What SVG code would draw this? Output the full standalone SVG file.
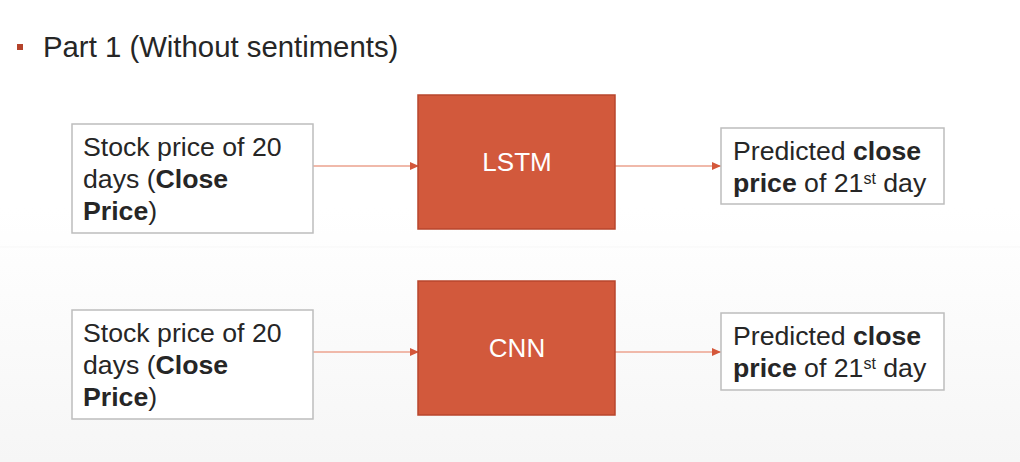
<svg xmlns="http://www.w3.org/2000/svg" width="1020" height="462" viewBox="0 0 1020 462">
<defs>
<linearGradient id="bg" x1="0" y1="0" x2="0" y2="1">
<stop offset="0" stop-color="#ffffff"/>
<stop offset="0.45" stop-color="#ffffff"/>
<stop offset="1" stop-color="#f6f6f6"/>
</linearGradient>
<marker id="arr" viewBox="0 0 10 10" refX="10" refY="5" markerWidth="9" markerHeight="8" markerUnits="userSpaceOnUse" orient="auto" preserveAspectRatio="none">
<path d="M0,0 L10,5 L0,10 Z" fill="#d4573a"/>
</marker>
<style>
text{font-family:"Liberation Sans",Arial,sans-serif;fill:#262626;}
.box{fill:#ffffff;stroke:#bdbdbd;stroke-width:1.5;}
.model{fill:#d2593c;stroke:#b8462c;stroke-width:1.5;}
.t{font-size:26.67px;}
.b{font-weight:bold;}
.sup{font-size:16px;}
.mt{font-size:26px;fill:#ffffff;text-anchor:middle;}
.conn{stroke:#f0b9aa;stroke-width:2;fill:none;}
</style>
</defs>
<rect x="0" y="0" width="1020" height="462" fill="url(#bg)"/>
<line x1="0" y1="247" x2="1020" y2="247" stroke="#f7f7f7" stroke-width="1"/>

<g id="title">
<rect x="17" y="44" width="6" height="6" fill="#b4432b"/>
<text x="43" y="57" style="font-size:29.33px">Part 1 (Without sentiments)</text>
</g>

<g id="connectors">
<line class="conn" x1="313" y1="166" x2="419" y2="166" marker-end="url(#arr)"/>
<line class="conn" x1="615" y1="166" x2="721" y2="166" marker-end="url(#arr)"/>
<line class="conn" x1="313" y1="352" x2="419" y2="352" marker-end="url(#arr)"/>
<line class="conn" x1="615" y1="352" x2="721" y2="352" marker-end="url(#arr)"/>
</g>

<g id="input1">
<rect class="box" x="72" y="124" width="241" height="109"/>
<text class="t" x="83" y="156">Stock price of 20</text>
<text class="t" x="83" y="188">days (<tspan class="b">Close</tspan></text>
<text class="t" x="83" y="220"><tspan class="b">Price</tspan>)</text>
</g>

<g id="lstm">
<rect class="model" x="418" y="95" width="197" height="134"/>
<text class="mt" x="517" y="171">LSTM</text>
</g>

<g id="output1">
<rect class="box" x="721" y="128" width="223" height="76"/>
<text class="t" x="733" y="160">Predicted <tspan class="b">close</tspan></text>
<text class="t" x="733" y="192"><tspan class="b">price</tspan> of 21<tspan class="sup" dy="-8">st</tspan><tspan dy="8"> day</tspan></text>
</g>

<g id="input2">
<rect class="box" x="72" y="310" width="241" height="109"/>
<text class="t" x="83" y="342">Stock price of 20</text>
<text class="t" x="83" y="374">days (<tspan class="b">Close</tspan></text>
<text class="t" x="83" y="406"><tspan class="b">Price</tspan>)</text>
</g>

<g id="cnn">
<rect class="model" x="418" y="281" width="197" height="134"/>
<text class="mt" x="517" y="357">CNN</text>
</g>

<g id="output2">
<rect class="box" x="721" y="313" width="223" height="77"/>
<text class="t" x="733" y="345">Predicted <tspan class="b">close</tspan></text>
<text class="t" x="733" y="377"><tspan class="b">price</tspan> of 21<tspan class="sup" dy="-8">st</tspan><tspan dy="8"> day</tspan></text>
</g>
</svg>
